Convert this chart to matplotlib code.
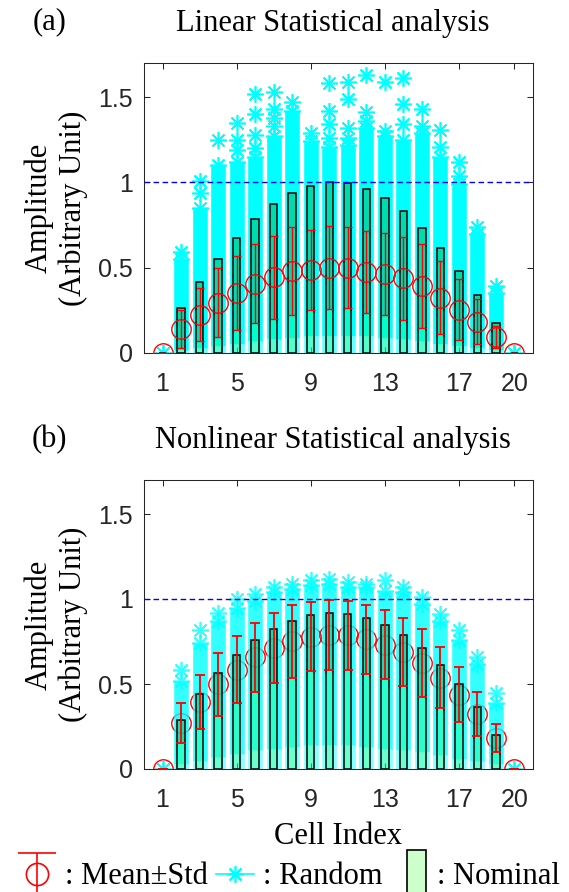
import numpy as np
import matplotlib
matplotlib.use("Agg")
from matplotlib import pyplot as plt
from matplotlib.patches import Rectangle, Patch
from matplotlib.lines import Line2D
from matplotlib.legend_handler import HandlerErrorbar, HandlerPatch

plt.rcParams['font.family'] = ['Liberation Serif', 'DejaVu Serif']

cells = np.arange(1, 21)
x_ticks = [1, 5, 9, 13, 17, 20]
y_ticks = [0, 0.5, 1, 1.5]
y_tick_labels = ["0", "0.5", "1", "1.5"]

# ---------------- (a) linear analysis ----------------
nominal_a = [0, 0.265, 0.418, 0.551, 0.676, 0.784, 0.871, 0.937, 0.980, 1.0,
             0.994, 0.959, 0.906, 0.831, 0.731, 0.616, 0.482, 0.341, 0.173, 0]
mean_a = [0, 0.141, 0.225, 0.296, 0.349, 0.406, 0.443, 0.480, 0.488, 0.500,
          0.500, 0.476, 0.463, 0.437, 0.394, 0.325, 0.255, 0.184, 0.092, 0]
std_a = [0, 0.110, 0.157, 0.204, 0.217, 0.232, 0.242, 0.256, 0.235, 0.242,
         0.236, 0.242, 0.240, 0.244, 0.245, 0.215, 0.176, 0.132, 0.065, 0]
cloud_top_a = [0, 0.55, 0.85, 1.10, 1.12, 1.15, 1.27, 1.42, 1.24, 1.21,
               1.22, 1.32, 1.27, 1.25, 1.29, 1.15, 0.99, 0.70, 0.35, 0]
cloud_low_a = [0, 0.02, 0.03, 0.04, 0.05, 0.07, 0.08, 0.09, 0.10, 0.10,
               0.10, 0.10, 0.09, 0.08, 0.07, 0.05, 0.04, 0.03, 0.02, 0]
outlier_cell_a = [1, 2, 3, 3, 4, 5, 5, 5, 6, 6, 6, 6, 7, 7, 7, 7, 8, 9,
                  10, 10, 10, 10, 11, 11, 11, 11, 12, 12, 12, 13, 13,
                  14, 14, 14, 15, 15, 16, 16, 17, 17, 18, 19, 20]
outlier_val_a = [0, 0.59, 0.94, 1.01, 1.25, 1.35, 1.25, 1.19, 1.52, 1.40, 1.28, 1.20,
                 1.53, 1.43, 1.38, 1.33, 1.47, 1.29,
                 1.58, 1.42, 1.34, 1.26, 1.59, 1.49, 1.32, 1.26, 1.63, 1.41, 1.36,
                 1.59, 1.30, 1.61, 1.46, 1.34, 1.43, 1.33, 1.31, 1.21, 1.12, 1.04,
                 0.74, 0.39, 0]

# ---------------- (b) nonlinear analysis ----------------
nominal_b = [0, 0.290, 0.441, 0.564, 0.670, 0.757, 0.825, 0.873, 0.903, 0.916,
             0.912, 0.888, 0.847, 0.788, 0.710, 0.614, 0.498, 0.365, 0.198, 0]
mean_b = [0, 0.270, 0.396, 0.498, 0.583, 0.657, 0.712, 0.752, 0.777, 0.788,
          0.786, 0.764, 0.731, 0.688, 0.623, 0.538, 0.438, 0.325, 0.182, 0]
std_b = [0, 0.118, 0.159, 0.186, 0.197, 0.204, 0.208, 0.215, 0.203, 0.206,
         0.204, 0.203, 0.202, 0.200, 0.198, 0.181, 0.160, 0.129, 0.082, 0]
cloud_top_b = [0, 0.52, 0.74, 0.87, 0.95, 0.99, 1.04, 1.06, 1.08, 1.09,
               1.07, 1.07, 1.05, 1.04, 0.97, 0.87, 0.76, 0.62, 0.39, 0]
cloud_low_b = [0, 0.03, 0.05, 0.07, 0.09, 0.11, 0.12, 0.13, 0.14, 0.14,
               0.14, 0.13, 0.12, 0.11, 0.10, 0.08, 0.06, 0.05, 0.03, 0]
outlier_cell_b = [1, 2, 3, 4, 5, 6, 7, 8, 9, 10, 11, 12, 13, 14, 15, 16, 17, 18, 19, 20]
outlier_val_b = [0, 0.58, 0.82, 0.92, 1.00, 1.03, 1.07, 1.09, 1.11, 1.12,
                 1.10, 1.09, 1.11, 1.07, 1.01, 0.91, 0.82, 0.66, 0.45, 0]

W, H = 569, 892
fig = plt.figure(figsize=(W / 100, H / 100), dpi=100)
ax_a = fig.add_axes([144 / W, 1 - 353 / H, 389 / W, 290 / H])
ax_b = fig.add_axes([144 / W, 1 - 769 / H, 389 / W, 289 / H])

ast = (8, 2, 0)  # matlab style asterisk
bar_w = 0.4


def draw_panel(ax, nominal, mean, std, top, low, oc, ov, faded):
    nominal = np.array(nominal)
    mean = np.array(mean)
    std = np.array(std)
    cloud_alpha = 0.8 if faded else 1.0
    # random samples (dense cloud + sparse outliers)
    ax.vlines(cells, low, top, colors="cyan", lw=10.5, alpha=cloud_alpha,
              capstyle="butt", zorder=2)
    ax.vlines(cells, 0, low, colors="cyan", lw=10.5, alpha=0.6 * cloud_alpha,
              capstyle="butt", zorder=2)
    ax.plot(cells, top, ls="none", marker=ast, ms=12, mew=1.2, color="cyan",
            alpha=cloud_alpha, zorder=2)
    ax.plot(oc, ov, ls="none", marker=ast, ms=12, mew=1.2, color="cyan",
            alpha=cloud_alpha, zorder=2)
    # nominal bars
    ax.bar(cells, nominal, width=bar_w, color=(0, 1, 0, 0.2), edgecolor="none", zorder=3)
    lo = mean - std
    ax.bar(cells, nominal - lo, bottom=lo, width=bar_w, color="#008a6a",
           alpha=0.3, edgecolor="none", zorder=3.2)
    ax.bar(cells, nominal, width=bar_w, fill=False, edgecolor="black", lw=1.1, zorder=3.5)
    ax.axhline(1, color="blue", ls=(0, (4, 2.5)), lw=1.0, zorder=4)
    if faded:
        ax.plot(cells, mean, ls="none", marker="o", ms=14, mfc="none", mec="red",
                mew=1.0, zorder=1.5)
        ax.errorbar(cells, mean, yerr=std, fmt="none", ecolor="red", elinewidth=1.3,
                    capsize=3.6, capthick=1.3, zorder=5)
    else:
        ax.errorbar(cells, mean, yerr=std, fmt="o", ms=14, mfc="none", mec="red",
                    mew=1.0, ecolor="red", elinewidth=1.0, capsize=3, capthick=1.0,
                    zorder=5)
    ax.set_xlim(0, 21)
    ax.set_ylim(0, 1.7)
    ax.set_xticks(x_ticks)
    ax.set_xticklabels([str(t) for t in x_ticks], family="Liberation Sans", fontsize=18)
    ax.set_yticks(y_ticks)
    ax.set_yticklabels(y_tick_labels, family="Liberation Sans", fontsize=18)
    ax.tick_params(axis="x", direction="in", top=True, length=4, width=0.75,
                   pad=14, colors="#262626")
    ax.tick_params(axis="y", direction="in", right=True, length=4, width=0.75,
                   pad=8, colors="#262626")
    for s in ax.spines.values():
        s.set_linewidth(0.75)
        s.set_color("#262626")
    ax.set_ylabel("Amplitude\n(Arbitrary Unit)", fontsize=22, linespacing=1.25, labelpad=7)


draw_panel(ax_a, nominal_a, mean_a, std_a, cloud_top_a, cloud_low_a,
           outlier_cell_a, outlier_val_a, False)
draw_panel(ax_b, nominal_b, mean_b, std_b, cloud_top_b, cloud_low_b,
           outlier_cell_b, outlier_val_b, True)

ax_a.set_title("Linear Statistical analysis", fontsize=22, x=0.485, pad=23)
ax_b.set_title("Nonlinear Statistical analysis", fontsize=22, x=0.485, pad=23)
ax_a.text(-0.242, 1.115, "(a)", transform=ax_a.transAxes, fontsize=22, ha="center", va="baseline")
ax_b.text(-0.242, 1.115, "(b)", transform=ax_b.transAxes, fontsize=22, ha="center", va="baseline")
ax_b.set_xlabel("Cell Index", fontsize=22, labelpad=7)

# legend
eb_proxy = ax_a.errorbar([np.nan], [np.nan], yerr=[np.nan], fmt="o", ms=16, mfc="none",
                         mec="red", mew=1.2, ecolor="red", elinewidth=1.2,
                         capsize=13.5, capthick=1.2)
star_proxy = Line2D([], [], color="cyan", marker=ast, ms=12, mew=1.2, lw=1.2)
bar_proxy = Patch(facecolor="#ccffcc", edgecolor="black", lw=1.2)


def tall_rect(legend, orig_handle, xdescent, ydescent, width, height, fontsize):
    return Rectangle((-xdescent + 0.45 * width, -ydescent - 0.6 * height),
                     0.5 * width, 2.2 * height)


fig.legend([eb_proxy, star_proxy, bar_proxy], [": Mean\u00b1Std", ": Random", ": Nominal"],
           loc="center", bbox_to_anchor=(289 / W, 1 - 877 / H), ncol=3, frameon=False,
           fontsize=22, handlelength=1.25, handletextpad=0.3, columnspacing=0.25,
           borderpad=0, borderaxespad=0,
           handler_map={type(eb_proxy): HandlerErrorbar(yerr_size=0.68),
                        Patch: HandlerPatch(patch_func=tall_rect)})

fig.savefig("out.png", dpi=100)
